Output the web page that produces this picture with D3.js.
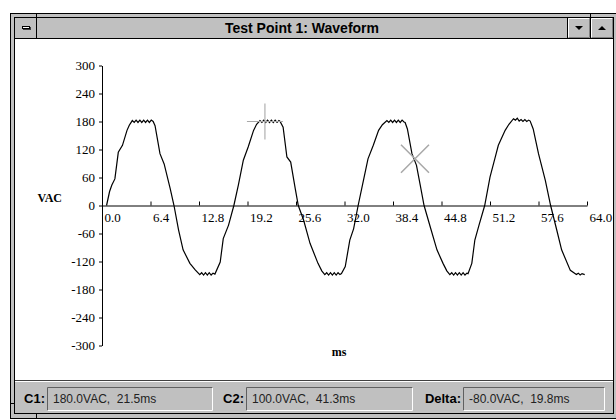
<!DOCTYPE html>
<html>
<head>
<meta charset="utf-8">
<script src="https://cdn.jsdelivr.net/npm/d3@7"></script>
<style>
  body { margin: 0; background: #fff; }
  svg { display: block; }
</style>
</head>
<body>
<div id="chart"></div>
<script>
const width = 616
const height = 420

// waveform samples (ms, VAC)
const timeMs = [
  0.6, 1.0, 1.3, 1.7, 2.15, 2.7, 3.3, 3.6,
  4.0, 4.25, 4.5, 4.75, 5.0, 5.25, 5.5, 5.75, 6.0, 6.25, 6.5, 6.75,
  7.0, 7.65, 8.2, 9.0, 9.5, 10.1, 10.7, 11.6, 12.3,
  12.9, 13.15, 13.4, 13.65, 13.9, 14.15, 14.4, 14.65, 14.9,
  15.6, 16.0, 16.7, 17.4,
  18.0, 18.65, 19.3, 20.0, 20.4,
  20.85, 21.1, 21.35, 21.6, 21.85, 22.1, 22.35, 22.6, 22.85, 23.1, 23.35, 23.5,
  23.9, 24.4, 24.9, 25.5, 25.9, 26.6, 27.45, 28.5, 29.0,
  29.4, 29.65, 29.9, 30.15, 30.4, 30.65, 30.9, 31.15, 31.4, 31.6,
  32.1, 32.7, 33.2, 33.8,
  34.5, 35.1, 35.8, 36.5, 37.0,
  37.6, 37.85, 38.1, 38.35, 38.6, 38.85, 39.1, 39.35, 39.6, 39.85, 40.0,
  40.3, 40.9, 41.5, 42.0, 42.5, 43.3, 44.2, 45.0, 45.5,
  45.9, 46.15, 46.4, 46.65, 46.9, 47.15, 47.4, 47.65, 47.9, 48.15, 48.3,
  48.8, 49.2, 49.75, 50.5,
  51.2, 51.9, 52.3, 53.2, 53.7,
  54.3, 54.55, 54.8, 55.05, 55.3, 55.55, 55.8, 56.05, 56.3, 56.5,
  56.9, 57.6, 58.5, 59.2, 60.0, 60.65, 61.8,
  62.6, 62.85, 63.1, 63.35, 63.7
]
const vac = [
  0, 30, 44, 57, 114, 129, 161, 172,
  182, 178, 183, 178, 183, 178, 183, 178, 183, 178, 183, 180,
  171, 111, 89, 36, 0, -52, -95, -124, -138,
  -148, -144, -149, -144, -149, -144, -149, -145, -147,
  -121, -71, -42, 0,
  44, 97, 126, 161, 174,
  182, 178, 183, 178, 183, 178, 183, 178, 183, 178, 182, 180,
  168, 104, 93, 36, 0, -31, -81, -124, -140,
  -148, -144, -149, -144, -149, -144, -149, -144, -148, -146,
  -131, -74, -50, 0,
  54, 100, 129, 161, 173,
  182, 178, 183, 178, 183, 178, 183, 178, 183, 179, 178,
  164, 111, 86, 43, 0, -45, -95, -124, -140,
  -148, -144, -149, -144, -149, -144, -149, -144, -149, -145, -146,
  -124, -74, -42, 0,
  61, 104, 129, 161, 174,
  186, 183, 187, 181, 184, 180, 184, 180, 183, 181,
  164, 111, 54, 0, -52, -95, -139,
  -148, -145, -149, -146, -148
]

const xTicks = [0, 6.4, 12.8, 19.2, 25.6, 32.0, 38.4, 44.8, 51.2, 57.6, 64.0]
const yTicks = [-300, -240, -180, -120, -60, 0, 60, 120, 180, 240, 300]

// cursors: C1 drawn as +, C2 drawn as x
const cursorC1 = [21.5, 180]
const cursorC2 = [41.3, 100]

const windowTitle = "Test Point 1: Waveform"
const statusLabels = ["C1:", "C2:", "Delta:"]
const statusValues = ["180.0VAC,  21.5ms", "100.0VAC,  41.3ms", "-80.0VAC,  19.8ms"]

const svg = d3.select("div#chart").append("svg").attr("width", width).attr("height", height)

// ---- window chrome ----
const face = "#c0c0c0"
const chrome = svg.append("g").attr("id", "chrome")
chrome.append("rect").attr("x", 10.5).attr("y", 13.5).attr("width", 620).attr("height", 405)
    .attr("fill", face).attr("stroke", "#000")
chrome.append("rect").attr("x", 14.5).attr("y", 17.5).attr("width", 599).attr("height", 396)
    .attr("fill", face).attr("stroke", "#000")
// frame notches
chrome.append("line").attr("x1", 10).attr("x2", 14).attr("y1", 403.5).attr("y2", 403.5).attr("stroke", "#000")
chrome.append("line").attr("x1", 36.5).attr("x2", 36.5).attr("y1", 413).attr("y2", 419).attr("stroke", "#000")
chrome.append("line").attr("x1", 36.5).attr("x2", 36.5).attr("y1", 13).attr("y2", 39).attr("stroke", "#000")
chrome.append("line").attr("x1", 590.5).attr("x2", 590.5).attr("y1", 13).attr("y2", 39).attr("stroke", "#000")
chrome.append("line").attr("x1", 567.5).attr("x2", 567.5).attr("y1", 17).attr("y2", 39).attr("stroke", "#000")
chrome.append("line").attr("x1", 14).attr("x2", 614).attr("y1", 38.5).attr("y2", 38.5).attr("stroke", "#000")

// system menu bar icon
chrome.append("rect").attr("x", 23).attr("y", 27).attr("width", 8).attr("height", 3).attr("fill", "#404040")
chrome.append("rect").attr("x", 22.5).attr("y", 26.5).attr("width", 7).attr("height", 2).attr("fill", "#fff").attr("stroke", "#000")

// min / max buttons
function bevel(x0, x1) {
    chrome.append("path").attr("d", `M${x0 + 0.5},37 V18.5 H${x1 - 1}`).attr("stroke", "#fff").attr("fill", "none")
    chrome.append("path").attr("d", `M${x0 + 1},37.5 H${x1 - 0.5} V18.5`).attr("stroke", "#808080").attr("fill", "none")
}
bevel(568, 590)
bevel(591, 613)
chrome.append("path").attr("d", "M575,26 h8 l-4,4 z").attr("fill", "#000")
chrome.append("path").attr("d", "M598,30 h8 l-4,-4 z").attr("fill", "#000")

chrome.append("text").attr("x", 302).attr("y", 33).attr("text-anchor", "middle")
    .style("font-family", "Liberation Sans, Arial, sans-serif").style("font-weight", "bold").style("font-size", "14px")
    .text(windowTitle)

// client area
chrome.append("rect").attr("x", 15).attr("y", 39).attr("width", 598).attr("height", 341).attr("fill", "#fff")
chrome.append("line").attr("x1", 15).attr("x2", 613).attr("y1", 380.5).attr("y2", 380.5).attr("stroke", "#404040")
chrome.append("line").attr("x1", 15).attr("x2", 613).attr("y1", 381.5).attr("y2", 381.5).attr("stroke", "#fff")

// status bar
const boxX = [47, 246, 463]
const boxW = [166, 167, 142]
statusLabels.forEach(function(label, i) {
    chrome.append("text").attr("x", boxX[i] - 2).attr("y", 403).attr("text-anchor", "end")
        .style("font-family", "Liberation Sans, Arial, sans-serif").style("font-weight", "bold").style("font-size", "13px")
        .text(label)
    chrome.append("path").attr("d", `M${boxX[i] + 0.5},410 V387.5 H${boxX[i] + boxW[i]}`)
        .attr("stroke", "#606060").attr("fill", "none")
    chrome.append("path").attr("d", `M${boxX[i] + 1},410.5 H${boxX[i] + boxW[i] - 0.5} V387.5`)
        .attr("stroke", "#fff").attr("fill", "none")
    chrome.append("text").attr("x", boxX[i] + 6).attr("y", 403)
        .style("font-family", "Liberation Sans, Arial, sans-serif").style("font-size", "12px").style("fill", "#222")
        .style("white-space", "pre").attr("xml:space", "preserve")
        .text(statusValues[i])
})

// ---- chart ----
const x = d3.scaleLinear().domain([0, 64]).range([102, 587])
const y = d3.scaleLinear().domain([-300, 300]).range([345.5, 65.5])

const xAxis = d3.axisBottom(x).tickValues(xTicks).tickFormat(d3.format(".1f"))
    .tickSizeInner(-4).tickSizeOuter(0).tickPadding(7)
const yAxis = d3.axisLeft(y).tickValues(yTicks).tickFormat(d => String(d))
    .tickSizeInner(3).tickSizeOuter(0).tickPadding(4)

const xAxisGroup = svg.append("g").attr("id", "xAxisGroup").attr("transform", `translate(0, ${y(0)})`).call(xAxis)
const yAxisGroup = svg.append("g").attr("id", "yAxisGroup").attr("transform", `translate(${x(0)}, 0)`).call(yAxis)

svg.selectAll("#xAxisGroup text, #yAxisGroup text")
    .style("font-family", "Liberation Serif, 'Times New Roman', serif").style("font-size", "13px").attr("fill", "#000")
xAxisGroup.selectAll("text").attr("text-anchor", "start").attr("x", 2)
svg.selectAll("#xAxisGroup path, #xAxisGroup line, #yAxisGroup path, #yAxisGroup line").attr("stroke", "#000")
xAxisGroup.attr("font-size", null)
yAxisGroup.attr("font-size", null)

svg.append("text").attr("x", 62).attr("y", 201.5).attr("text-anchor", "end")
    .style("font-family", "Liberation Serif, 'Times New Roman', serif").style("font-weight", "bold").style("font-size", "12px")
    .text("VAC")
svg.append("text").attr("x", 339).attr("y", 356).attr("text-anchor", "middle")
    .style("font-family", "Liberation Serif, 'Times New Roman', serif").style("font-weight", "bold").style("font-size", "12px")
    .text("ms")

// waveform
const wave = timeMs.map((t, i) => [t, vac[i]])
const lineFunc = d3.line().x(d => x(d[0])).y(d => y(d[1]))
svg.append("path")
    .attr("d", lineFunc(wave))
    .attr("stroke", "#000")
    .attr("stroke-width", 1.2)
    .attr("fill", "none")

// cursors
const cx1 = x(cursorC1[0]), cy1 = y(cursorC1[1])
svg.append("path").attr("d", `M${cx1 - 18},${cy1} H${cx1 + 18} M${cx1},${cy1 - 18} V${cy1 + 18}`)
    .attr("stroke", "#a8a8a8").attr("stroke-width", 1.1).attr("fill", "none")
const cx2 = x(cursorC2[0]), cy2 = y(cursorC2[1])
svg.append("path").attr("d", `M${cx2 - 14},${cy2 - 14} L${cx2 + 14},${cy2 + 14} M${cx2 - 14},${cy2 + 14} L${cx2 + 14},${cy2 - 14}`)
    .attr("stroke", "#a8a8a8").attr("stroke-width", 1.5).attr("fill", "none")
</script>
</body>
</html>
